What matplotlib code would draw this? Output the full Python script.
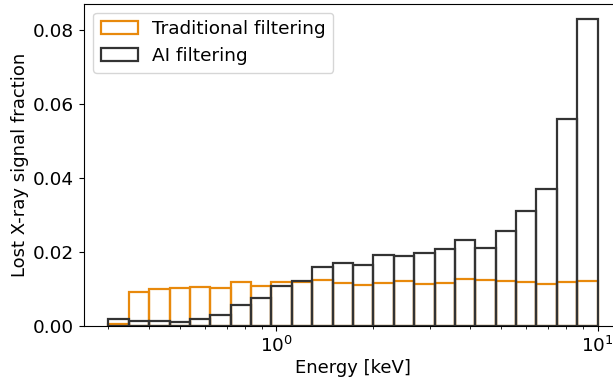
import numpy as np
import matplotlib
matplotlib.use("Agg")
import matplotlib.pyplot as plt

# Log-spaced energy bins (keV)
bin_edges = np.logspace(np.log10(0.3), 1, 25)

traditional = [0.0005, 0.0093, 0.0100, 0.0103, 0.0105, 0.0104, 0.0118, 0.0108,
               0.0118, 0.0119, 0.0124, 0.0115, 0.0112, 0.0117, 0.0122, 0.0114,
               0.0117, 0.0126, 0.0124, 0.0122, 0.0119, 0.0114, 0.0119, 0.0122]
ai = [0.0018, 0.0014, 0.0013, 0.0011, 0.0018, 0.0031, 0.0057, 0.0076,
      0.0109, 0.0122, 0.0159, 0.0169, 0.0165, 0.0192, 0.0190, 0.0196,
      0.0209, 0.0232, 0.0210, 0.0256, 0.0311, 0.0371, 0.0560, 0.0830]

labels = ["Traditional filtering", "AI filtering"]
colors = ["#e8890c", "#333333"]

centers = np.sqrt(bin_edges[:-1] * bin_edges[1:])

fig = plt.figure(figsize=(6.13, 3.79), dpi=100)
ax = fig.add_axes([84 / 613, 1 - 326 / 379, (622 - 84) / 613, (326 - 3.5) / 379])

for vals, lab, col in zip([traditional, ai], labels, colors):
    ax.hist(centers, bins=bin_edges, weights=vals, histtype="bar", fill=False,
            edgecolor=col, linewidth=1.6, label=lab)

ax.set_xscale("log")
ax.set_xlabel("Energy [keV]", fontsize=13, labelpad=2)
ax.set_ylabel("Lost X-ray signal fraction", fontsize=13, labelpad=3)
ax.tick_params(labelsize=13.3)
ax.set_yticks([0.0, 0.02, 0.04, 0.06, 0.08])
ax.legend(loc="upper left", fontsize=13.3)

fig.savefig("out.png", dpi=100)
